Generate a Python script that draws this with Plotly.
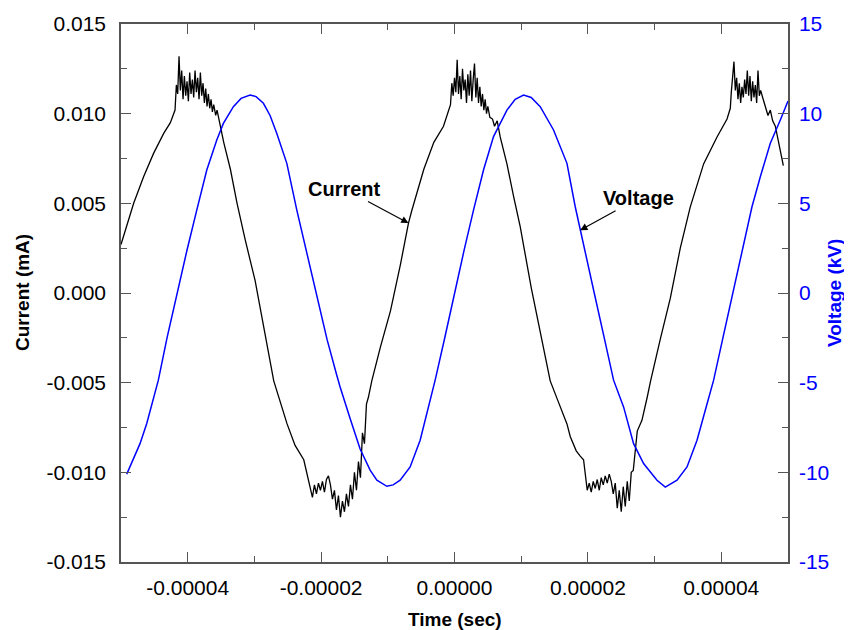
import plotly.graph_objects as go

# ---- Current trace (time in seconds, current in mA) ----
current_time = [
    -50.0e-6, -49.1e-6, -48.1e-6, -46.6e-6, -45.1e-6, -43.6e-6, -42.6e-6, -41.9e-6,
    -41.7e-6, -41.5e-6, -41.3e-6, -41.1e-6, -40.9e-6, -40.7e-6, -40.5e-6, -40.3e-6,
    -40.1e-6, -39.9e-6, -39.7e-6, -39.5e-6, -39.3e-6, -39.1e-6, -38.9e-6, -38.7e-6,
    -38.5e-6, -38.3e-6, -38.1e-6, -37.9e-6, -37.7e-6, -37.5e-6, -37.3e-6, -37.1e-6,
    -36.9e-6, -36.7e-6, -36.5e-6, -36.3e-6, -36.1e-6, -35.8e-6, -35.6e-6,
    -34.6e-6, -33.6e-6, -32.6e-6, -31.4e-6, -29.9e-6, -28.5e-6, -27.1e-6,
    -25.1e-6, -23.9e-6, -22.6e-6,
    -21.6e-6, -21.3e-6, -21.0e-6, -20.7e-6, -20.4e-6, -20.1e-6, -19.8e-6, -19.5e-6,
    -19.2e-6, -18.9e-6, -18.6e-6, -18.3e-6, -18.0e-6, -17.7e-6, -17.4e-6, -17.1e-6,
    -16.8e-6, -16.5e-6, -16.2e-6, -15.9e-6, -15.6e-6, -15.3e-6, -15.0e-6, -14.7e-6,
    -14.4e-6, -14.1e-6, -13.8e-6, -13.5e-6, -13.2e-6, -12.9e-6, -12.4e-6,
    -11.1e-6, -9.6e-6, -8.1e-6, -6.9e-6, -6.4e-6, -4.6e-6, -3.1e-6, -1.65e-6,
    -0.6e-6, -0.4e-6, -0.2e-6, 0.0e-6, 0.2e-6, 0.4e-6, 0.6e-6, 0.8e-6, 1.0e-6,
    1.2e-6, 1.4e-6, 1.6e-6, 1.8e-6, 2.0e-6, 2.2e-6, 2.4e-6, 2.6e-6, 2.8e-6, 3.0e-6,
    3.2e-6, 3.4e-6, 3.6e-6, 3.8e-6, 4.0e-6, 4.2e-6, 4.4e-6, 4.6e-6, 4.8e-6, 5.0e-6,
    5.3e-6, 5.7e-6, 6.0e-6, 6.4e-6,
    6.85e-6, 7.86e-6, 8.85e-6, 9.85e-6, 11.5e-6, 12.85e-6, 14.35e-6, 15.6e-6,
    16.86e-6, 17.35e-6, 18.25e-6, 18.85e-6, 19.35e-6,
    19.9e-6, 20.2e-6, 20.5e-6, 20.8e-6, 21.1e-6, 21.4e-6, 21.7e-6, 22.0e-6, 22.3e-6,
    22.6e-6, 22.9e-6, 23.2e-6, 23.5e-6, 23.8e-6, 24.1e-6, 24.4e-6, 24.7e-6, 25.0e-6,
    25.3e-6, 25.6e-6, 25.9e-6, 26.2e-6, 26.5e-6, 26.8e-6,
    27.4e-6, 28.1e-6, 28.9e-6, 29.4e-6, 30.9e-6, 32.35e-6, 33.85e-6, 35.35e-6,
    37.35e-6, 39.36e-6, 40.86e-6, 41.35e-6,
    41.5e-6, 41.7e-6, 41.9e-6, 42.1e-6, 42.3e-6, 42.5e-6, 42.7e-6, 42.9e-6, 43.1e-6,
    43.3e-6, 43.5e-6, 43.7e-6, 43.9e-6, 44.1e-6, 44.3e-6, 44.5e-6, 44.7e-6, 44.9e-6,
    45.1e-6, 45.3e-6, 45.5e-6, 45.7e-6, 45.9e-6, 46.2e-6,
    47.0e-6, 47.35e-6, 47.7e-6, 48.1e-6, 48.6e-6, 49.3e-6,
]
current_ma = [
    0.0027, 0.0038, 0.0050, 0.0065, 0.0078, 0.0089, 0.0095, 0.0102,
    0.0116, 0.0111, 0.0132, 0.0113, 0.0124, 0.0108, 0.0121, 0.0110,
    0.0118, 0.0107, 0.0123, 0.0111, 0.0119, 0.0109, 0.0124, 0.0112,
    0.0120, 0.0108, 0.0123, 0.0110, 0.0117, 0.0106, 0.0114, 0.0104,
    0.0111, 0.0103, 0.0108, 0.0101, 0.0105, 0.0099, 0.0102,
    0.0084, 0.0069, 0.0050, 0.0030, 0.0007, -0.0022, -0.0049,
    -0.0073, -0.0085, -0.0093,
    -0.0110, -0.0114, -0.0107, -0.0112, -0.0106, -0.0110, -0.0105, -0.0111,
    -0.0104, -0.0102, -0.0107, -0.0115, -0.0110, -0.0121, -0.0113, -0.0125,
    -0.0116, -0.0122, -0.0112, -0.0119, -0.0107, -0.0115, -0.0100, -0.0110,
    -0.0094, -0.0103, -0.0078, -0.0084, -0.0062, -0.0058, -0.0049,
    -0.0030, -0.0010, 0.0016, 0.0039, 0.0046, 0.0069, 0.0084, 0.0093,
    0.0105, 0.0117, 0.0110, 0.0120, 0.0112, 0.0130, 0.0111, 0.0121, 0.0108,
    0.0125, 0.0113, 0.0119, 0.0106, 0.0122, 0.0110, 0.0124, 0.0107, 0.0119, 0.0128,
    0.0109, 0.0120, 0.0106, 0.0115, 0.0104, 0.0111, 0.0102, 0.0108, 0.0100, 0.0104,
    0.0098, 0.0097, 0.0093, 0.0096,
    0.0087, 0.0072, 0.0054, 0.0037, 0.0003, -0.0022, -0.0049, -0.0061,
    -0.0073, -0.0080, -0.0088, -0.0091, -0.0093,
    -0.0110, -0.0106, -0.0111, -0.0105, -0.0109, -0.0104, -0.0110, -0.0103, -0.0107,
    -0.0102, -0.0106, -0.0101, -0.0105, -0.0112, -0.0106, -0.0120, -0.0110, -0.0122,
    -0.0108, -0.0119, -0.0105, -0.0116, -0.0100, -0.0099,
    -0.0077, -0.0071, -0.0058, -0.0049, -0.0025, -0.0003, 0.0025, 0.0048,
    0.0072, 0.0087, 0.0097, 0.0103,
    0.0112, 0.0121, 0.0129, 0.0113, 0.0120, 0.0108, 0.0117, 0.0106, 0.0115,
    0.0109, 0.0119, 0.0111, 0.0124, 0.0110, 0.0121, 0.0107, 0.0118, 0.0109,
    0.0116, 0.0106, 0.0124, 0.0110, 0.0113, 0.0109,
    0.0099, 0.0102, 0.0096, 0.0093, 0.0084, 0.0071,
]

# ---- Voltage trace (time in seconds, voltage in kV) ----
voltage_time = [
    -49.14e-6, -48.2e-6, -47.15e-6, -46.14e-6, -45.15e-6, -44.4e-6, -43.1e-6, -41.6e-6,
    -40.1e-6, -38.64e-6, -37.14e-6, -35.64e-6, -34.65e-6, -33.15e-6, -32.0e-6, -30.65e-6,
    -29.75e-6, -28.65e-6, -27.65e-6, -26.64e-6, -25.14e-6, -23.64e-6, -22.1e-6, -20.6e-6,
    -19.1e-6, -17.64e-6, -17.15e-6, -15.65e-6, -14.15e-6, -12.65e-6, -11.64e-6, -10.14e-6,
    -9.2e-6, -8.15e-6, -6.65e-6, -5.15e-6, -4.14e-6, -2.9e-6, -1.4e-6, -0.05e-6,
    1.45e-6, 2.85e-6, 4.35e-6, 5.85e-6, 7.86e-6, 9.1e-6, 10.35e-6, 11.5e-6,
    12.85e-6, 14.85e-6, 16.86e-6, 18.1e-6, 18.85e-6, 19.6e-6, 20.95e-6, 22.45e-6,
    23.85e-6, 25.35e-6, 26.85e-6, 28.35e-6, 30.36e-6, 31.6e-6, 33.36e-6, 34.86e-6,
    36.36e-6, 37.6e-6, 38.85e-6, 40.3e-6, 41.65e-6, 43.15e-6, 44.6e-6, 45.85e-6,
    47.35e-6, 48.85e-6, 50.0e-6,
]
voltage_kv = [
    -10.1, -9.3, -8.4, -7.28, -5.98, -4.86, -2.5, 0.0,
    2.4, 4.62, 6.86, 8.53, 9.46, 10.39, 10.85, 11.04,
    10.95, 10.58, 9.9, 8.9, 7.23, 4.62, 2.2, -0.2,
    -2.6, -4.6, -5.24, -7.0, -8.7, -9.88, -10.44, -10.78,
    -10.7, -10.44, -9.7, -8.21, -6.72, -4.86, -2.4, -0.1,
    2.4, 4.62, 6.86, 8.72, 10.2, 10.8, 11.04, 10.9,
    10.39, 9.09, 7.23, 4.81, 3.5, 2.3, 0.0, -2.5,
    -4.86, -6.35, -8.4, -9.51, -10.44, -10.82, -10.44, -9.70,
    -8.21, -6.54, -4.86, -2.4, -0.1, 2.4, 4.81, 6.48,
    8.35, 9.65, 10.7,
]

# ---- Tick labels ----
x_tickvals = [-4e-5, -2e-5, 0.0, 2e-5, 4e-5]
x_ticktext = ["-0.00004", "-0.00002", "0.00000", "0.00002", "0.00004"]
y_tickvals = [-0.015, -0.010, -0.005, 0.0, 0.005, 0.010, 0.015]
y_ticktext = ["-0.015", "-0.010", "-0.005", "0.000", "0.005", "0.010", "0.015"]
y2_tickvals = [-15, -10, -5, 0, 5, 10, 15]
y2_ticktext = ["-15", "-10", "-5", "0", "5", "10", "15"]

FONT = "Liberation Sans, Arial, sans-serif"
BLUE = "#0000ff"
AXIS = "#555555"

fig = go.Figure()
fig.add_trace(go.Scatter(x=current_time, y=current_ma, mode="lines",
                         line=dict(color="black", width=1.3), name="Current",
                         yaxis="y"))
fig.add_trace(go.Scatter(x=voltage_time, y=voltage_kv, mode="lines",
                         line=dict(color=BLUE, width=1.5), name="Voltage",
                         yaxis="y2"))

# The page body has an 8px default margin, so the figure is sized to fit inside the window.
fig.update_layout(
    width=844, height=622,
    margin=dict(l=113, r=64, t=16, b=68, autoexpand=False),
    paper_bgcolor="white", plot_bgcolor="white",
    showlegend=False,
    font=dict(family=FONT, color="black"),
    xaxis=dict(
        range=[-5e-5, 5e-5], tickvals=x_tickvals, ticktext=x_ticktext,
        ticks="inside", ticklen=10, tickwidth=1.3, tickcolor=AXIS,
        minor=dict(ticks="inside", dtick=1e-5, tick0=0, ticklen=6, tickwidth=1.3, tickcolor=AXIS),
        showline=True, linecolor=AXIS, linewidth=1.5, mirror="ticks",
        showgrid=False, zeroline=False, automargin=False,
        tickfont=dict(size=21, color="black"), ticklabelstandoff=6,
    ),
    yaxis=dict(
        range=[-0.015, 0.015], tickvals=y_tickvals, ticktext=y_ticktext,
        ticks="inside", ticklen=10, tickwidth=1.3, tickcolor=AXIS,
        minor=dict(ticks="inside", dtick=0.0025, tick0=0, ticklen=6, tickwidth=1.3, tickcolor=AXIS),
        showline=True, linecolor=AXIS, linewidth=1.5,
        showgrid=False, zeroline=False, automargin=False,
        tickfont=dict(size=21, color="black"), ticklabelstandoff=9,
    ),
    yaxis2=dict(
        range=[-15, 15], tickvals=y2_tickvals, ticktext=y2_ticktext,
        overlaying="y", side="right",
        ticks="inside", ticklen=10, tickwidth=1.3, tickcolor=AXIS,
        minor=dict(ticks="inside", dtick=2.5, tick0=0, ticklen=6, tickwidth=1.3, tickcolor=AXIS),
        showline=True, linecolor=AXIS, linewidth=1.5,
        showgrid=False, zeroline=False, automargin=False,
        tickfont=dict(size=21, color=BLUE), ticklabelstandoff=5,
    ),
    annotations=[
        dict(x=-6.9e-6, y=0.0039, xref="x", yref="y", text="<b>Current</b>",
             showarrow=True, ax=-64, ay=-34, arrowhead=2, arrowsize=1.2, arrowwidth=1.2,
             arrowcolor="black", font=dict(size=20, color="black", family=FONT)),
        dict(x=18.85e-6, y=3.5, xref="x", yref="y2", text="<b>Voltage</b>",
             showarrow=True, ax=58, ay=-32, arrowhead=2, arrowsize=1.2, arrowwidth=1.2,
             arrowcolor="black", font=dict(size=20, color="black", family=FONT)),
        dict(x=0.5, y=-0.106, xref="paper", yref="paper", text="<b>Time (sec)</b>",
             showarrow=False, xanchor="center", yanchor="middle",
             font=dict(size=19, color="black", family=FONT)),
        dict(x=-0.1484, y=0.5, xref="paper", yref="paper", text="<b>Current (mA)</b>",
             showarrow=False, xanchor="center", yanchor="middle", textangle=-90,
             font=dict(size=19, color="black", family=FONT)),
        dict(x=1.069, y=0.5, xref="paper", yref="paper", text="<b>Voltage (kV)</b>",
             showarrow=False, xanchor="center", yanchor="middle", textangle=-90,
             font=dict(size=19, color=BLUE, family=FONT)),
    ],
)

fig.write_html("out.html")
